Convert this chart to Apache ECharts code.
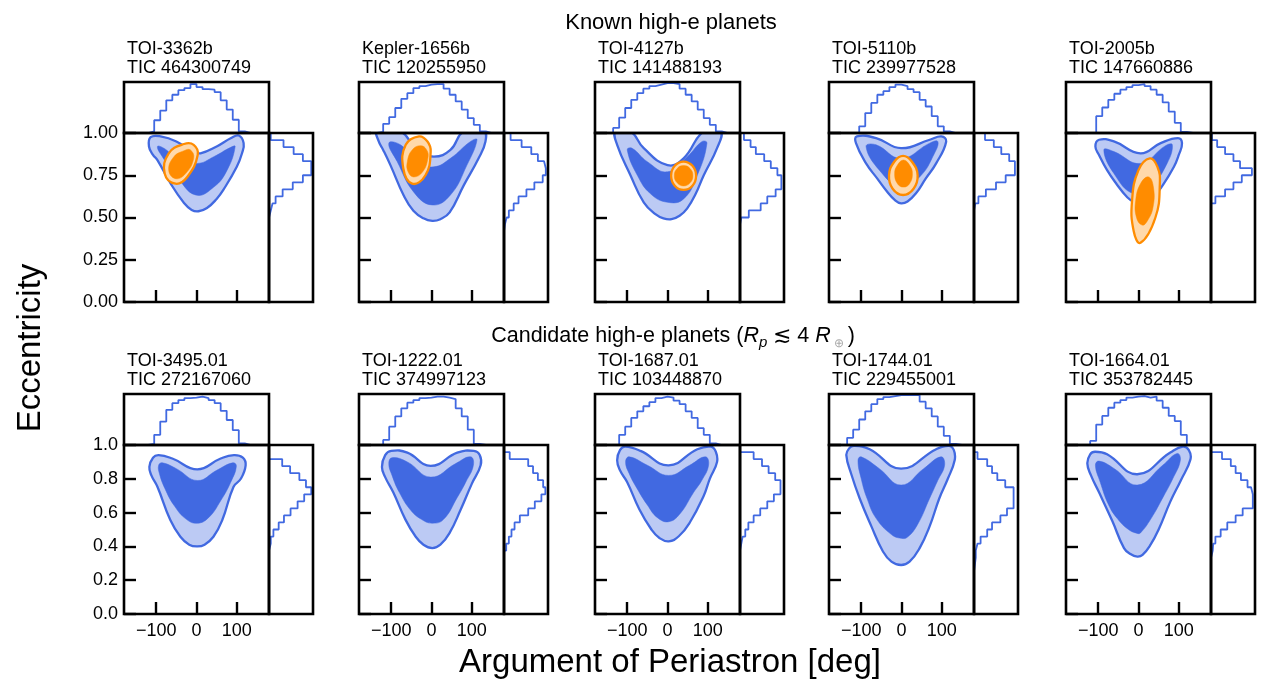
<!DOCTYPE html>
<html>
<head>
<meta charset="utf-8">
<script src="https://cdn.jsdelivr.net/npm/echarts@6/dist/echarts.min.js"></script>
<style>
  html, body { margin: 0; background: #fff; }
  #main { width: 1268px; height: 698px; }
</style>
</head>
<body>
<div id="main"></div>
<script>
// panel labels
const planetNames = ['TOI-3362b', 'Kepler-1656b', 'TOI-4127b', 'TOI-5110b', 'TOI-2005b',
  'TOI-3495.01', 'TOI-1222.01', 'TOI-1687.01', 'TOI-1744.01', 'TOI-1664.01'];
const ticIds = ['TIC 464300749', 'TIC 120255950', 'TIC 141488193', 'TIC 239977528', 'TIC 147660886',
  'TIC 272167060', 'TIC 374997123', 'TIC 103448870', 'TIC 229455001', 'TIC 353782445'];

// histogram bin edges: omega in 15 deg steps, eccentricity in 1/24 steps
const omegaEdges = [-180, -165, -150, -135, -120, -105, -90, -75, -60, -45, -30, -15, 0,
  15, 30, 45, 60, 75, 90, 105, 120, 135, 150, 165, 180];
const eccEdges = Array.from({ length: 25 }, (_, i) => i / 24);

// top histograms (argument of periastron), relative height
const omegaHists = [
  [0,0,0,0,0.03,0.25,0.44,0.64,0.75,0.84,0.88,0.96,0.90,0.86,0.85,0.80,0.64,0.46,0.26,0.03,0,0,0,0],
  [0,0,0,0.02,0.18,0.31,0.49,0.67,0.78,0.88,0.92,0.95,0.96,0.96,0.87,0.75,0.62,0.46,0.29,0.16,0.03,0,0,0],
  [0,0,0,0.10,0.30,0.49,0.65,0.78,0.87,0.92,0.95,0.98,0.98,0.96,0.87,0.75,0.62,0.46,0.29,0.16,0.03,0,0,0],
  [0,0,0,0,0,0.13,0.39,0.59,0.75,0.82,0.90,0.95,0.92,0.86,0.80,0.65,0.52,0.33,0.13,0.03,0,0,0,0],
  [0,0,0,0,0,0.33,0.50,0.65,0.77,0.85,0.90,0.94,0.96,0.92,0.85,0.75,0.60,0.42,0.20,0.02,0,0,0,0],
  [0,0,0,0,0.02,0.20,0.46,0.69,0.82,0.88,0.92,0.93,0.95,0.92,0.88,0.82,0.67,0.49,0.29,0.03,0,0,0,0],
  [0,0,0,0,0.10,0.36,0.56,0.72,0.83,0.88,0.92,0.93,0.95,0.95,0.93,0.90,0.72,0.56,0.30,0.02,0,0,0,0],
  [0,0,0,0,0.20,0.36,0.53,0.66,0.76,0.84,0.92,0.95,0.93,0.87,0.80,0.66,0.53,0.33,0.20,0.03,0,0,0,0],
  [0,0,0,0.14,0.30,0.50,0.66,0.80,0.90,0.94,0.96,0.98,0.98,0.98,0.98,0.85,0.72,0.56,0.36,0.18,0.02,0,0,0],
  [0,0,0,0,0.08,0.40,0.57,0.73,0.83,0.88,0.93,0.95,0.96,0.93,0.95,0.87,0.73,0.57,0.47,0.20,0,0,0,0]
];

// right histograms (eccentricity), relative width
const eccHists = [
  [0,0,0,0,0,0,0,0,0,0,0,0,0.04,0.08,0.15,0.31,0.54,0.77,0.96,0.96,0.77,0.56,0.33,0.04],
  [0,0,0,0,0,0,0,0,0,0,0.02,0.06,0.11,0.22,0.33,0.51,0.69,0.88,0.95,0.91,0.77,0.62,0.40,0.15],
  [0,0,0,0,0,0,0,0,0,0,0,0.03,0.20,0.47,0.62,0.81,0.94,0.94,0.85,0.70,0.55,0.36,0.24,0.09],
  [0,0,0,0,0,0,0,0,0,0,0,0,0,0.03,0.10,0.27,0.50,0.72,0.93,0.93,0.80,0.62,0.45,0.25],
  [0,0,0,0,0,0,0,0,0,0,0,0,0,0,0.10,0.32,0.51,0.70,0.93,0.66,0.51,0.32,0.14,0.02],
  [0,0,0,0,0,0,0,0,0,0.04,0.04,0.10,0.22,0.34,0.49,0.65,0.80,0.96,0.84,0.69,0.48,0.30,0,0],
  [0,0,0,0,0,0,0,0,0,0.05,0.11,0.17,0.24,0.36,0.55,0.70,0.85,0.94,0.89,0.77,0.66,0.55,0.13,0],
  [0,0,0,0,0,0,0,0,0,0.03,0.06,0.12,0.19,0.31,0.46,0.62,0.77,0.92,0.92,0.80,0.65,0.50,0.31,0],
  [0,0,0,0,0,0,0.02,0.04,0.04,0.08,0.15,0.30,0.41,0.60,0.75,0.90,0.90,0.90,0.71,0.53,0.41,0.30,0.08,0],
  [0,0,0,0,0,0,0,0,0.04,0.05,0.10,0.22,0.37,0.56,0.72,0.95,0.95,0.91,0.83,0.68,0.56,0.45,0.25,0]
];

// outer and inner contours of the population posterior, [omega, e]
const outerContours = [
  [[-114,0.975],[-118,0.92],[-108,0.87],[-97,0.84],[-64,0.70],[-31,0.586],[-12,0.545],[5,0.537],[26,0.556],[50,0.61],[67,0.665],[100,0.80],[113,0.88],[117,0.94],[105,0.985],[86,0.97],[50,0.92],[10,0.88],[-10,0.89],[-50,0.95],[-89,0.98]],
  [[-135,1.01],[-131,0.95],[-120,0.90],[-102,0.81],[-69,0.63],[-45,0.54],[-20,0.495],[2,0.48],[22,0.49],[45,0.53],[80,0.69],[117,0.85],[134,0.95],[130,1.01],[80,1.01],[47,0.90],[6,0.86],[-36,0.90],[-77,1.01]],
  [[-129,1.01],[-125,0.93],[-92,0.75],[-59,0.59],[-30,0.52],[-10,0.495],[10,0.49],[30,0.51],[49,0.554],[70,0.64],[90,0.75],[123,0.91],[132,1.01],[90,1.01],[40,0.85],[0,0.81],[-59,0.91],[-92,1.01]],
  [[-111,0.98],[-113,0.94],[-88,0.82],[-60,0.73],[-38,0.66],[-15,0.60],[-1,0.584],[15,0.595],[36,0.643],[60,0.73],[86,0.82],[111,0.95],[99,0.98],[70,0.96],[-1,0.91],[-63,0.97]],
  [[-107,0.92],[-98,0.96],[-61,0.95],[5,0.88],[55,0.94],[98,0.97],[108,0.94],[100,0.87],[88,0.80],[60,0.69],[38,0.625],[15,0.59],[5,0.584],[-10,0.59],[-28,0.62],[-55,0.70],[-78,0.78],[-98,0.87]],
  [[-117,0.87],[-108,0.925],[-94,0.94],[-60,0.92],[2,0.856],[60,0.92],[93,0.94],[115,0.925],[122,0.88],[110,0.80],[92,0.753],[64,0.556],[42,0.457],[20,0.41],[2,0.40],[-18,0.41],[-40,0.457],[-65,0.556],[-97,0.753],[-112,0.82]],
  [[-123,0.87],[-115,0.94],[-100,0.965],[-60,0.955],[-2,0.876],[64,0.955],[105,0.965],[120,0.94],[122,0.88],[100,0.77],[72,0.615],[45,0.48],[22,0.41],[2,0.39],[-20,0.41],[-40,0.46],[-65,0.56],[-95,0.72],[-115,0.81]],
  [[-125,0.91],[-118,0.97],[-105,0.99],[-67,0.965],[3,0.88],[74,0.975],[108,0.99],[120,0.96],[123,0.90],[105,0.80],[90,0.70],[55,0.54],[28,0.46],[3,0.43],[-20,0.45],[-40,0.50],[-70,0.62],[-100,0.78],[-118,0.85]],
  [[-137,0.94],[-130,0.98],[-118,0.995],[-79,0.975],[-1,0.86],[86,0.975],[118,0.995],[130,0.97],[132,0.91],[115,0.80],[94,0.685],[70,0.52],[45,0.39],[20,0.31],[-1,0.29],[-25,0.31],[-46,0.37],[-75,0.52],[-104,0.685],[-125,0.83]],
  [[-127,0.89],[-120,0.945],[-108,0.96],[-78,0.945],[-3,0.827],[79,0.955],[110,0.99],[125,0.97],[129,0.915],[105,0.79],[79,0.665],[50,0.50],[30,0.41],[10,0.35],[-3,0.34],[-20,0.355],[-36,0.39],[-65,0.55],[-98,0.72],[-118,0.82]]
];
const innerContours = [
  [[-97,0.92],[-85,0.86],[-48,0.74],[-2,0.633],[43,0.68],[76,0.78],[96,0.92],[85,0.915],[43,0.86],[2,0.82],[-48,0.85],[-81,0.91]],
  [[-106,0.94],[-85,0.83],[-44,0.65],[2,0.574],[47,0.633],[88,0.81],[113,0.96],[97,0.95],[47,0.85],[6,0.80],[-36,0.83],[-77,0.93]],
  [[-100,0.90],[-75,0.75],[-42,0.64],[0,0.59],[40,0.61],[74,0.75],[98,0.94],[86,0.95],[49,0.86],[0,0.77],[-50,0.83],[-88,0.91]],
  [[-88,0.92],[-55,0.78],[-1,0.68],[45,0.74],[82,0.88],[90,0.95],[70,0.94],[-1,0.85],[-63,0.93]],
  [[-86,0.90],[-61,0.89],[5,0.82],[67,0.925],[84,0.93],[71,0.82],[30,0.68],[-12,0.64],[-61,0.76]],
  [[-94,0.88],[-85,0.895],[-50,0.86],[2,0.79],[50,0.85],[90,0.895],[99,0.875],[85,0.78],[60,0.67],[30,0.57],[2,0.537],[-25,0.56],[-55,0.64],[-78,0.74],[-92,0.83]],
  [[-106,0.89],[-98,0.925],[-60,0.90],[-2,0.81],[60,0.89],[97,0.93],[104,0.88],[85,0.78],[64,0.69],[30,0.56],[2,0.537],[-25,0.56],[-52,0.615],[-80,0.72],[-98,0.82]],
  [[-104,0.90],[-95,0.93],[-50,0.88],[3,0.82],[55,0.88],[94,0.93],[102,0.88],[85,0.79],[65,0.72],[30,0.59],[3,0.546],[-25,0.57],[-50,0.645],[-75,0.74],[-95,0.83]],
  [[-108,0.91],[-100,0.93],[-55,0.86],[-1,0.763],[55,0.86],[98,0.93],[107,0.88],[90,0.79],[70,0.685],[40,0.53],[15,0.455],[-1,0.448],[-25,0.47],[-63,0.566],[-85,0.68],[-100,0.80]],
  [[-107,0.88],[-98,0.905],[-60,0.86],[-3,0.763],[60,0.88],[96,0.95],[104,0.91],[85,0.80],[63,0.70],[30,0.56],[5,0.48],[-3,0.477],[-25,0.50],[-53,0.566],[-75,0.65],[-95,0.78]]
];

// measured planet posteriors (known planets only), [omega, e]
const planetOuter = [
  [[-31,0.935],[-7,0.93],[3,0.87],[-23,0.74],[-52,0.70],[-79,0.76],[-69,0.88]],
  [[-31,0.98],[-10,0.95],[-2,0.89],[-15,0.75],[-48,0.70],[-70,0.79],[-64,0.93]],
  [[40,0.831],[62,0.806],[71,0.747],[62,0.688],[40,0.663],[18,0.688],[9,0.747],[18,0.806]],
  [[4,0.865],[26,0.83],[40,0.75],[30,0.67],[4,0.633],[-22,0.67],[-31,0.75],[-18,0.83]],
  [[28,0.85],[47,0.80],[53,0.70],[42,0.50],[5,0.35],[-12,0.42],[-16,0.60],[0,0.78]]
];
const planetInner = [
  [[-15,0.90],[-7,0.85],[-27,0.76],[-52,0.73],[-69,0.78],[-56,0.86],[-31,0.895]],
  [[-27,0.925],[-12,0.90],[-9,0.85],[-22,0.77],[-44,0.74],[-58,0.77],[-60,0.83],[-48,0.90]],
  [[40,0.807],[56,0.79],[63,0.747],[56,0.705],[40,0.687],[24,0.705],[17,0.747],[24,0.79]],
  [[5,0.84],[20,0.81],[27,0.76],[20,0.70],[5,0.68],[-10,0.70],[-17,0.76],[-10,0.81]],
  [[25,0.74],[37,0.68],[36,0.56],[22,0.48],[9,0.455],[-5,0.50],[-7,0.60],[5,0.70]]
];

const omegaTicks = [-100, 0, 100];

const BLUE = '#4169e1';
const LIGHT_BLUE = '#bccaf4';
const ORANGE = '#ff8c00';
const LIGHT_ORANGE = '#ffd9ab';
const FONT = '"Liberation Sans", Arial, sans-serif';

const colLeft = [124, 359, 595, 829, 1066];
const rowTop = [133, 445];
const mainW = 145, mainH = 169, topH = 51, sideW = 44;

const chart = echarts.init(document.getElementById('main'));

function gridBox(left, top, width, height) {
  return { left, top, width, height, show: true, borderColor: '#000', borderWidth: 2.6,
    backgroundColor: 'transparent', z: 10 };
}

function hiddenAxis(gridIndex, min, max) {
  return { type: 'value', gridIndex, min, max, show: false };
}

function polygonSeries(poly, axisIndex, fill, stroke) {
  return {
    type: 'custom', xAxisIndex: axisIndex, yAxisIndex: axisIndex, data: poly,
    clip: true, silent: true, encode: { x: 0, y: 1 },
    renderItem(params, api) {
      if (params.dataIndex !== 0) return null;
      return {
        type: 'polygon',
        shape: { points: poly.map(p => api.coord(p)), smooth: 0.45 },
        style: { fill, stroke: stroke || fill, lineWidth: stroke ? 2.3 : 0.5 }
      };
    }
  };
}

function topStep(vals) {
  const pts = [[omegaEdges[0], 0]];
  vals.forEach((v, i) => pts.push([omegaEdges[i], v], [omegaEdges[i + 1], v]));
  pts.push([omegaEdges[omegaEdges.length - 1], 0]);
  return pts;
}

function sideStep(vals) {
  const pts = [[0, eccEdges[0]]];
  vals.forEach((v, i) => pts.push([v, eccEdges[i]], [v, eccEdges[i + 1]]));
  pts.push([0, eccEdges[eccEdges.length - 1]]);
  return pts;
}

const grid = [], xAxis = [], yAxis = [], series = [], graphic = [];
const tickStyle = { color: '#000', width: 2.4 };
const labelStyle = { color: '#000', fontSize: 18, fontFamily: FONT };

planetNames.forEach((name, k) => {
  const row = Math.floor(k / 5), col = k % 5;
  const left = colLeft[col], top = rowTop[row];
  const gMain = grid.length;

  grid.push(gridBox(left, top, mainW, mainH));
  grid.push(gridBox(left, top - topH, mainW, topH));
  grid.push(gridBox(left + mainW, top, sideW, mainH));

  xAxis.push({
    type: 'value', gridIndex: gMain, min: -180, max: 180, position: 'bottom',
    axisLine: { show: false, onZero: false }, splitLine: { show: false },
    axisTick: { inside: true, length: 12, customValues: omegaTicks, lineStyle: tickStyle },
    axisLabel: Object.assign({ show: row === 1, customValues: omegaTicks, margin: 8,
      formatter: v => String(v).replace('-', '\u2212') }, labelStyle)
  });
  yAxis.push({
    type: 'value', gridIndex: gMain, min: 0, max: 1, interval: row === 0 ? 0.25 : 0.2, position: 'left',
    axisLine: { show: false, onZero: false }, splitLine: { show: false },
    axisTick: { inside: true, length: 12, lineStyle: tickStyle },
    axisLabel: Object.assign({ show: col === 0, margin: 6,
      formatter: v => v.toFixed(row === 0 ? 2 : 1) }, labelStyle)
  });
  xAxis.push(hiddenAxis(gMain + 1, -180, 180));
  yAxis.push(hiddenAxis(gMain + 1, 0, 1));
  xAxis.push(hiddenAxis(gMain + 2, 0, 1));
  yAxis.push(hiddenAxis(gMain + 2, 0, 1));

  series.push(polygonSeries(outerContours[k], gMain, LIGHT_BLUE, BLUE));
  series.push(polygonSeries(innerContours[k], gMain, BLUE, null));
  if (row === 0) {
    series.push(polygonSeries(planetOuter[col], gMain, LIGHT_ORANGE, ORANGE));
    series.push(polygonSeries(planetInner[col], gMain, ORANGE, null));
  }

  const histLine = { type: 'line', showSymbol: false, silent: true, clip: true,
    lineStyle: { color: BLUE, width: 1.8 }, animation: false };
  series.push(Object.assign({}, histLine, { xAxisIndex: gMain + 1, yAxisIndex: gMain + 1, data: topStep(omegaHists[k]) }));
  series.push(Object.assign({}, histLine, { xAxisIndex: gMain + 2, yAxisIndex: gMain + 2, data: sideStep(eccHists[k]) }));

  graphic.push({
    type: 'text', x: left + 3, y: top - topH - 42,
    style: { text: name + '\n' + ticIds[k], fontSize: 18, lineHeight: 19, fontFamily: FONT,
      fill: '#000', align: 'left', verticalAlign: 'top' }
  });
});

graphic.push({
  type: 'text', x: 671, y: 23,
  style: { text: 'Known high-e planets', fontSize: 22, fontFamily: FONT, fill: '#000',
    align: 'center', verticalAlign: 'middle' }
});
graphic.push({
  type: 'text', x: 673, y: 336,
  style: {
    text: '{n|Candidate high-e planets (}{i|R}{s|p}{n| \u2272 4 }{i|R}{o|\u2295}{n|)}',
    align: 'center', verticalAlign: 'middle',
    rich: {
      n: { fontSize: 21.5, fontFamily: FONT, fill: '#000', lineHeight: 28 },
      i: { fontSize: 21.5, fontFamily: FONT, fontStyle: 'italic', fill: '#000', lineHeight: 28 },
      s: { fontSize: 15, fontFamily: FONT, fontStyle: 'italic', fill: '#000', lineHeight: 15, verticalAlign: 'bottom' },
      o: { fontSize: 12, fontFamily: FONT, fill: '#aaa', lineHeight: 12, verticalAlign: 'bottom', padding: [0, 4, 0, 3] }
    }
  }
});
graphic.push({
  type: 'text', x: 670, y: 663,
  style: { text: 'Argument of Periastron [deg]', fontSize: 33, fontFamily: FONT, fill: '#000',
    align: 'center', verticalAlign: 'middle' }
});
graphic.push({
  type: 'text', x: 31, y: 348, rotation: Math.PI / 2,
  style: { text: 'Eccentricity', fontSize: 33, fontFamily: FONT, fill: '#000',
    align: 'center', verticalAlign: 'middle' }
});

chart.setOption({
  animation: false,
  backgroundColor: '#fff',
  grid, xAxis, yAxis, series, graphic
});
</script>
</body>
</html>
